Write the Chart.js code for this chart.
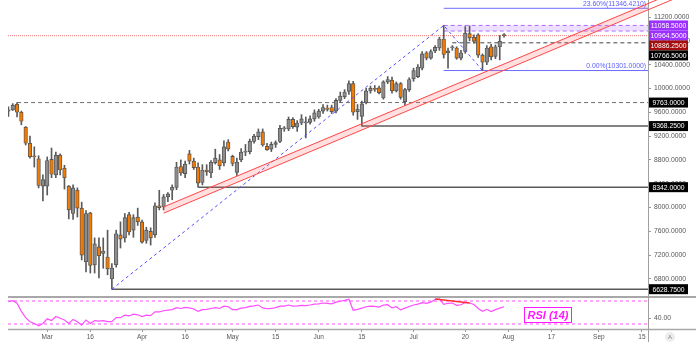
<!DOCTYPE html>
<html>
<head>
<meta charset="utf-8">
<script src="https://cdn.jsdelivr.net/npm/chart.js@4.4.1/dist/chart.umd.min.js"></script>
<style>
  html, body { margin: 0; padding: 0; background: #fff; }
  #wrap { position: relative; width: 696px; height: 342px; overflow: hidden; }
  canvas { position: absolute; left: 0; }
  #priceCanvas { top: 0; }
  #rsiCanvas { top: 296px; }
</style>
</head>
<body>
<div id="wrap">
  <canvas id="priceCanvas" width="696" height="296"></canvas>
  <canvas id="rsiCanvas" width="696" height="46"></canvas>
</div>
<script>
// Velas diarias, una por sesión (índice 0 = 18 feb)
const opens = [
  9620, 9640, 9735, 9600, 9350, 9080, 8870, 8820, 8360, 8360,
  8810, 8550, 8880, 8660, 8360, 7900, 8290, 7990, 7090, 7910,
  7040, 7340, 7230, 7170, 6800, 7040, 7540, 7490, 7880, 7620,
  7840, 7760, 7450, 7600, 7540, 8030, 8010, 8180, 8290, 8340,
  8690, 8570, 8900, 8780, 8680, 8420, 8630, 8580, 8750, 8800,
  8750, 9100, 8860, 8590, 8800, 8930, 8940, 9110, 9190, 9270,
  9030, 8980, 9060, 9110, 9320, 9320, 9480, 9350, 9420, 9420,
  9430, 9490, 9520, 9620, 9670, 9680, 9620, 9800, 9860, 9950,
  10080, 9610, 9530, 9760, 9960, 10000, 10010, 9840, 10110, 10140,
  9960, 10080, 9780, 9980, 10160, 10200, 10340, 10600, 10510, 10630,
  10680, 10830, 10600, 10680, 10680, 10510, 10620, 10920, 10860, 10900,
  10560, 10440, 10700, 10540, 10700, 10900
];
const highs = [
  9690, 9745, 9763, 9620, 9360, 9200, 9020, 8870, 8550, 8850,
  9000, 8930, 8900, 8710, 8370, 8380, 8330, 8090, 7950, 7920,
  7490, 7490, 7490, 7620, 7060, 7620, 7760, 7900, 7920, 7880,
  7990, 7790, 7670, 7660, 8080, 8290, 8220, 8250, 8380, 8760,
  8800, 8780, 8960, 8830, 8750, 8720, 8720, 8790, 8980, 8890,
  9120, 9140, 8880, 8830, 8990, 9060, 9150, 9230, 9320, 9320,
  9080, 9100, 9120, 9380, 9360, 9520, 9510, 9460, 9560, 9520,
  9540, 9640, 9650, 9730, 9720, 9720, 9830, 9940, 9980, 10130,
  10120, 9730, 9790, 10000, 10040, 10050, 10040, 10130, 10200, 10190,
  10110, 10100, 10000, 10180, 10340, 10400, 10620, 10620, 10650, 10720,
  10860, 11058.5, 10680, 10720, 10700, 10640, 11040, 11050, 10900, 10920,
  10580, 10720, 10740, 10730, 10890, 10920
];
const lows = [
  9530, 9630, 9520, 9390, 9050, 8830, 8680, 8330, 8110, 8210,
  8500, 8500, 8550, 8310, 7810, 7800, 7840, 7120, 6920, 6900,
  6900, 6820, 6980, 6870, 6628.75, 7000, 7320, 7420, 7540, 7500,
  7700, 7400, 7400, 7370, 7500, 7960, 7960, 8100, 8130, 8300,
  8540, 8500, 8730, 8640, 8342, 8380, 8540, 8500, 8730, 8640,
  8700, 8950, 8700, 8540, 8770, 8870, 8900, 9080, 9140, 9030,
  8960, 8940, 9010, 9090, 9280, 9290, 9330, 9280, 9390, 9170,
  9400, 9450, 9500, 9580, 9620, 9580, 9590, 9770, 9830, 9900,
  9550, 9480, 9368.25, 9740, 9920, 9950, 9910, 9820, 10080, 9920,
  9940, 9820, 9720, 9950, 10120, 10180, 10310, 10480, 10490, 10600,
  10640, 10510, 10340, 10640, 10490, 10480, 10590, 10800, 10760, 10520,
  10301, 10400, 10480, 10500, 10480, 10860
];
const closes = [
  9640, 9720, 9600, 9450, 9080, 8850, 8850, 8370, 8470, 8790,
  8560, 8880, 8630, 8500, 7960, 8330, 7990, 7200, 7900, 7030,
  7390, 7190, 7270, 6970, 6985, 7560, 7470, 7830, 7590, 7830,
  7760, 7420, 7620, 7490, 8030, 8000, 8180, 8230, 8340, 8680,
  8580, 8730, 8780, 8670, 8410, 8630, 8600, 8760, 8830, 8700,
  9020, 8980, 8740, 8760, 8930, 8950, 9110, 9200, 9270, 9050,
  8970, 9060, 9090, 9330, 9340, 9480, 9360, 9420, 9490, 9440,
  9490, 9590, 9620, 9680, 9650, 9610, 9800, 9870, 9940, 10080,
  9600, 9650, 9740, 9960, 10000, 9985, 9930, 10110, 10150, 9960,
  10080, 9850, 9980, 10150, 10300, 10360, 10580, 10510, 10620, 10690,
  10830, 10570, 10630, 10700, 10510, 10600, 10930, 10850, 10790, 10560,
  10440, 10680, 10530, 10700, 10790, 10886.25
];

// RSI (14) por sesión
const rsiValues = [
  69, 70.5, 66, 52, 41, 34, 31, 27, 31, 39,
  36, 43, 40, 37, 31, 38, 34, 28, 37, 31,
  36, 35, 36, 34, 34, 41, 41, 45.5, 44, 47,
  46, 43, 45.5, 44.5, 51, 51, 53, 54, 55, 58.5,
  57, 59, 58, 56, 52, 55, 55.5, 57, 58.5, 57,
  61, 60, 55, 55, 57.5, 58.5, 60.5, 61.5, 63, 58,
  56.5, 57, 58.5, 61, 61, 63, 61, 61.5, 62.5, 62,
  63, 64.5, 65, 66.5, 66, 65, 68, 69.5, 71, 73,
  54, 55.5, 57.5, 60, 61, 60.5, 59.5, 63, 63.5, 58,
  60, 54.5, 57.5, 60.5, 63, 64.5, 67, 66, 68, 72.5,
  73.5, 64, 66, 66.5, 62.5, 63.5, 67.5, 66.5, 64, 57,
  52, 55.5, 51.5, 55, 57.5, 60
];

// Ejes
const priceTicks = [6800, 7200, 7600, 8000, 8400, 8800, 9200, 9600, 10000, 10400, 10800, 11200];
const dateTickIdx = [9, 19, 31, 41, 52, 62, 72, 82, 94, 106, 116, 126, 137, 147];
const dateTickLabels = ['Mar', '16', 'Apr', '16', 'May', '15', 'Jun', '15', 'Jul', '20', 'Aug', '17', 'Sep', '15'];
const rsiTicks = [40];
const rsiBands = [70, 30];

// Etiquetas de precio en el eje derecho
const levelValues = [11058.5, 10964.5, 10886.25, 10766.5, 9763, 9368.25, 8342, 6628.75];
const levelColors = ['#9b30ff', '#9b30ff', '#a30d0d', '#000000', '#000000', '#000000', '#000000', '#000000'];

// Soportes horizontales (desde qué vela arrancan)
const supportValues = [9763, 9368.25, 8342, 6628.75];
const supportStart = [2, 82, 44, 24];
const resistZone = [11058.5, 10964.5];
const resistStart = 101;
const midLevel = 10766.5;
const midStart = 103;
const lastPrice = 10886.25;

// Fibonacci
const fibPathIdx = [24, 101, 110];
const fibPathVals = [6628.75, 11058.5, 10301];
const fibLevels = [11346.421, 10301];
const fibLabels = ['23.60%(11346.4210)', '0.00%(10301.0000)'];
const fibStart = 101;

// Canal alcista
const channelIdx = [36, 158];
const channelUpper = [8010, 11717];
const channelLower = [7905, 11612];

// Divergencia en RSI
const rsiDivIdx = [99, 107];
const rsiDivVals = [73.5, 66.5];

const X_MIN = -0.1, X_MAX = 148.4;
const P_MIN = 6514.5, P_MAX = 11485.5;
const R_MIN = 21.3, R_MAX = 75.2;

const FONT = "'Liberation Sans', Arial, sans-serif";
Chart.defaults.font.family = FONT;
Chart.defaults.font.size = 6.5;
Chart.defaults.color = '#555';

const seg = (x0, x1, y) => [{ x: x0, y }, { x: x1, y }];
const lineDs = (data, color, extra) => Object.assign({
  type: 'line', data, borderColor: color, borderWidth: 1, pointRadius: 0,
  tension: 0, fill: false, order: 8
}, extra || {});

const idx = closes.map((_, i) => i);
const bodyColors = idx.map((i) => closes[i] >= opens[i] ? '#8c8c8c' : '#f47a00');

const rightAxis = (min, max, ticks, fmt) => ({
  position: 'right', min, max,
  afterFit(s) { s.width = 48; s.paddingTop = 0; s.paddingBottom = 0; },
  afterBuildTicks(s) { s.ticks = ticks.map((v) => ({ value: v })); },
  ticks: { callback: fmt, padding: 3, autoSkip: false, color: '#555', font: { size: 6.8 } },
  grid: { drawOnChartArea: false, drawTicks: true, tickLength: 3, color: '#999' },
  border: { color: '#a0a0a0', width: 1 }
});

// Etiquetas del eje y textos de Fibonacci
const priceLabelsPlugin = {
  id: 'priceLabels',
  afterDraw(chart) {
    const { ctx, chartArea } = chart;
    const y = chart.scales.y;
    const h = 10;
    const items = levelValues
      .map((v, i) => ({ v, color: levelColors[i], py: y.getPixelForValue(v) }))
      .sort((a, b) => a.py - b.py);
    for (let i = 1; i < items.length; i++) {
      if (items[i].py < items[i - 1].py + h) items[i].py = items[i - 1].py + h;
    }
    ctx.save();
    ctx.font = `6.8px ${FONT}`;
    ctx.textAlign = 'center';
    ctx.textBaseline = 'middle';
    items.forEach((it) => {
      ctx.fillStyle = it.color;
      ctx.fillRect(649, it.py - h / 2, 39, h);
      ctx.fillStyle = '#fff';
      ctx.fillText(it.v.toFixed(4), 668.5, it.py + 0.5);
    });
    ctx.textAlign = 'right';
    ctx.textBaseline = 'bottom';
    ctx.fillStyle = '#5b5bff';
    fibLevels.forEach((v, i) => {
      ctx.fillText(fibLabels[i], chartArea.right - 2, y.getPixelForValue(v) - 1);
    });
    ctx.restore();
  }
};

const priceChart = new Chart(document.getElementById('priceCanvas'), {
  type: 'bar',
  data: {
    datasets: [
      // niveles horizontales
      ...supportValues.map((v, i) => lineDs(seg(supportStart[i], X_MAX, v),
        i === 0 ? '#6e6e6e' : '#5a5a5a',
        i === 0 ? { borderDash: [4, 3] } : { borderWidth: 1.4 })),
      lineDs(seg(midStart, X_MAX, midLevel), '#444', { borderDash: [4, 3] }),
      lineDs(seg(resistStart, X_MAX, resistZone[0]), '#b366ff',
        { borderDash: [4, 3], fill: '+1', backgroundColor: 'rgba(190, 140, 255, 0.28)' }),
      lineDs(seg(resistStart, X_MAX, resistZone[1]), '#b366ff', { borderDash: [4, 3] }),
      ...fibLevels.map((v) => lineDs(seg(fibStart, X_MAX, v), '#6b6bff')),
      lineDs(seg(X_MIN, X_MAX, lastPrice), '#ef7b7b', { borderDash: [1, 1] }),
      // mechas
      {
        label: 'wick',
        data: idx.map((i) => ({ x: i, y: [lows[i], highs[i]] })),
        backgroundColor: '#5a5a5a',
        barThickness: 1,
        grouped: false,
        order: 5
      },
      // cuerpos
      {
        label: 'body',
        data: idx.map((i) => ({ x: i, y: [opens[i], closes[i]] })),
        backgroundColor: bodyColors,
        borderColor: '#555',
        borderWidth: 0.9,
        borderSkipped: false,
        barThickness: 3.6,
        grouped: false,
        minBarLength: 1,
        order: 4
      },
      // canal
      lineDs(channelIdx.map((x, i) => ({ x, y: channelUpper[i] })), '#ff4545',
        { fill: '+1', backgroundColor: 'rgba(255, 110, 110, 0.22)', clip: false, order: 1 }),
      lineDs(channelIdx.map((x, i) => ({ x, y: channelLower[i] })), '#ff4545',
        { clip: false, order: 1 }),
      // trayectoria de la extensión de Fibonacci
      lineDs(fibPathIdx.map((x, i) => ({ x, y: fibPathVals[i] })), '#5050ff',
        { borderDash: [3, 3], order: 2 })
    ]
  },
  options: {
    responsive: false,
    animation: false,
    events: [],
    layout: { padding: { left: 8, top: 0, bottom: 0, right: 0 } },
    plugins: { legend: { display: false }, tooltip: { enabled: false } },
    scales: {
      x: { type: 'linear', min: X_MIN, max: X_MAX, offset: false, display: false },
      y: rightAxis(P_MIN, P_MAX, priceTicks, (v) => Number(v).toFixed(4))
    }
  },
  plugins: [priceLabelsPlugin]
});

// Marco del panel RSI, rótulo y botón de escala
const rsiFramePlugin = {
  id: 'rsiFrame',
  afterDraw(chart) {
    const { ctx, chartArea: a, width, height } = chart;
    ctx.save();
    ctx.strokeStyle = '#a8a8a8';
    ctx.lineWidth = 2;
    ctx.beginPath(); ctx.moveTo(a.left, 1); ctx.lineTo(width, 1); ctx.stroke();
    ctx.lineWidth = 1.5;
    ctx.beginPath(); ctx.moveTo(a.left, a.bottom + 0.5); ctx.lineTo(width, a.bottom + 0.5); ctx.stroke();
    ctx.lineWidth = 1;
    ctx.strokeStyle = '#a0a0a0';
    ctx.beginPath(); ctx.moveTo(a.right + 0.5, 0); ctx.lineTo(a.right + 0.5, height); ctx.stroke();

    ctx.fillStyle = '#fff';
    ctx.fillRect(524, 11, 48, 16);
    ctx.strokeStyle = '#ff1aff';
    ctx.strokeRect(524.5, 11.5, 47, 15);
    ctx.fillStyle = '#ff1aff';
    ctx.font = `italic bold 11px ${FONT}`;
    ctx.textAlign = 'center';
    ctx.textBaseline = 'middle';
    ctx.fillText('RSI (14)', 548, 19.5);

    ctx.fillStyle = '#ececec';
    ctx.beginPath(); ctx.arc(670, 41, 5, 0, Math.PI * 2); ctx.fill();
    ctx.fillStyle = '#888';
    ctx.font = `6px ${FONT}`;
    ctx.fillText('A', 670, 41.5);
    ctx.restore();
  }
};

const rsiChart = new Chart(document.getElementById('rsiCanvas'), {
  type: 'line',
  data: {
    datasets: [
      ...rsiBands.map((v) => lineDs(seg(X_MIN, X_MAX, v), '#ff4dff', { borderDash: [3, 3] })),
      lineDs(idx.map((i) => ({ x: i, y: rsiValues[i] })), '#ff4dff', { borderWidth: 1.2, order: 2 }),
      lineDs(rsiDivIdx.map((x, i) => ({ x, y: rsiDivVals[i] })), '#ff3030', { borderWidth: 1.5, order: 1 })
    ]
  },
  options: {
    responsive: false,
    animation: false,
    events: [],
    layout: { padding: { left: 8, top: 2, bottom: 0, right: 0 } },
    plugins: { legend: { display: false }, tooltip: { enabled: false } },
    scales: {
      x: {
        type: 'linear', min: X_MIN, max: X_MAX, offset: false,
        afterFit(s) { s.height = 13; s.paddingLeft = 0; s.paddingRight = 0; },
        afterBuildTicks(s) { s.ticks = dateTickIdx.map((v) => ({ value: v })); },
        ticks: { callback: (v, i) => dateTickLabels[i], autoSkip: false, maxRotation: 0, padding: 1, color: '#555' },
        grid: { drawOnChartArea: false, drawTicks: true, tickLength: 3, color: '#999' },
        border: { display: false }
      },
      y: rightAxis(R_MIN, R_MAX, rsiTicks, (v) => Number(v).toFixed(2))
    }
  },
  plugins: [rsiFramePlugin]
});
</script>
</body>
</html>
